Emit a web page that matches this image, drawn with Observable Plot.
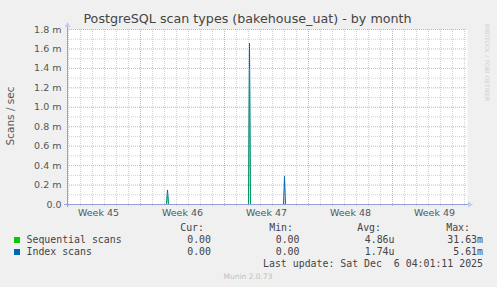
<!DOCTYPE html>
<html><head><meta charset="utf-8">
<script src="https://cdn.jsdelivr.net/npm/d3@7"></script>
<script src="https://cdn.jsdelivr.net/npm/@observablehq/plot@0.6"></script>
<style>
html,body{margin:0;padding:0;background:#f0f0f0;}
#chart{width:497px;height:287px;overflow:hidden;}
svg{display:block;}
</style></head><body><div id="chart"></div>
<script>
// ---- data ----
const chartTitle = "PostgreSQL scan types (bakehouse_uat) - by month";
const yLabel = "Scans / sec";
const seriesNames = ["Sequential scans", "Index scans"];
const seriesColors = ["#00cc00", "#0066b3"];
const timeDomain = ["2025-11-02T22:00Z", "2025-12-06T06:00Z"];
const seqTimes  = ["2025-11-02T22:00Z","2025-11-11T04:00Z","2025-11-11T06:00Z","2025-11-11T08:00Z","2025-11-18T00:00Z","2025-11-18T02:00Z","2025-11-18T04:00Z","2025-12-06T06:00Z"];
const seqValues = [0, 0, 0.00012, 0, 0, 0.0014, 0, 0];
const idxTimes  = ["2025-11-02T22:00Z","2025-11-11T04:00Z","2025-11-11T06:00Z","2025-11-11T08:00Z","2025-11-18T00:00Z","2025-11-18T02:00Z","2025-11-18T04:00Z","2025-11-20T22:00Z","2025-11-21T00:00Z","2025-11-21T02:00Z","2025-12-06T06:00Z"];
const idxValues = [0, 0, 0.00015, 0, 0, 0.00166, 0, 0, 0.00029, 0, 0];
const yMajor = [0, 0.0002, 0.0004, 0.0006, 0.0008, 0.001, 0.0012, 0.0014, 0.0016, 0.0018];
const yTickLabels = ["0.0", "0.2 m", "0.4 m", "0.6 m", "0.8 m", "1.0 m", "1.2 m", "1.4 m", "1.6 m", "1.8 m"];
const yMinor = [0.0001, 0.0003, 0.0005, 0.0007, 0.0009, 0.0011, 0.0013, 0.0015, 0.0017];
const weekLabelDates = ["2025-11-05T12:00Z","2025-11-12T12:00Z","2025-11-19T12:00Z","2025-11-26T12:00Z","2025-12-03T12:00Z"];
const weekLabels = ["Week 45", "Week 46", "Week 47", "Week 48", "Week 49"];
const statHeaders = ["Cur:", "Min:", "Avg:", "Max:"];
const statCur = ["0.00", "0.00"];
const statMin = ["0.00", "0.00"];
const statAvg = ["4.86u", "1.74u"];
const statMax = ["31.63m", "5.61m"];
const lastUpdate = "Last update: Sat Dec  6 04:01:11 2025";
const footer = "Munin 2.0.73";
const watermark = "RRDTOOL / TOBI OETIKER";

// ---- build ----
const dom = timeDomain.map(d => new Date(d));
const seq = seqTimes.map((t, i) => ({t: new Date(t), v: seqValues[i]}));
const idx = idxTimes.map((t, i) => ({t: new Date(t), v: idxValues[i]}));
const dayTicks = d3.utcDay.range(dom[0], dom[1]);
const weekTicks = d3.utcSunday.range(dom[0], dom[1]);
const weekPos = weekLabelDates.map(d => new Date(d));
const yLab = new Map(yMajor.map((v, i) => [v, yTickLabels[i]]));
const wLab = new Map(weekPos.map((d, i) => [+d, weekLabels[i]]));

const minorCol = "#d2d2d2", majorCol = "#eaa8a8", axisCol = "#94a2dc";
const W = 497, H = 287, ML = 67, MR = 30, MT = 29, MB = 83;

const plot = Plot.plot({
  width: W, height: H,
  marginLeft: ML, marginRight: MR, marginTop: MT, marginBottom: MB,
  style: {background: "transparent", fontFamily: "DejaVu Sans", fontSize: "9.5px", color: "#555"},
  x: {type: "utc", domain: dom, axis: null},
  y: {domain: [0, 0.0018], axis: null},
  marks: [
    Plot.frame({fill: "white", stroke: "none"}),
    Plot.ruleY(yMinor, {stroke: minorCol, strokeDasharray: "1,1"}),
    Plot.ruleX(dayTicks, {stroke: minorCol, strokeDasharray: "1,1"}),
    Plot.ruleY(yMajor.slice(1), {stroke: majorCol, strokeDasharray: "1,1"}),
    Plot.ruleX(weekTicks, {stroke: majorCol, strokeDasharray: "1,1"}),
    Plot.axisX({ticks: dayTicks, tickSize: 2, stroke: minorCol, tickFormat: () => "", label: null}),
    Plot.axisX({ticks: weekTicks, tickSize: 2, stroke: majorCol, tickFormat: () => "", label: null}),
    Plot.line(idx, {x: "t", y: "v", stroke: seriesColors[1], strokeWidth: 1}),
    Plot.line(seq, {x: "t", y: "v", stroke: seriesColors[0], strokeWidth: 1, strokeOpacity: 0.5}),
    Plot.axisY({ticks: yMajor, tickSize: 0, tickPadding: 6, tickFormat: d => yLab.get(d), fill: "#555", label: null}),
    Plot.axisX({ticks: weekPos, tickSize: 0, tickPadding: 5, tickFormat: d => wLab.get(+d), fill: "#555", label: null})
  ]
});
document.getElementById("chart").appendChild(plot);

const svg = d3.select(plot);
const x0 = ML, x1 = W - MR, y0 = H - MB, y1 = MT;
// axes lines with arrows
svg.append("line").attr("x1", x0 - 3).attr("x2", x1 + 3).attr("y1", y0 + 0.5).attr("y2", y0 + 0.5).attr("stroke", axisCol);
svg.append("line").attr("x1", x0 + 0.5).attr("x2", x0 + 0.5).attr("y1", y0 + 3).attr("y2", y1 - 4).attr("stroke", axisCol);
svg.append("path").attr("d", `M${x1 + 1},${y0 - 2.5}L${x1 + 6},${y0 + 0.5}L${x1 + 1},${y0 + 3.5}Z`).attr("fill", "#c4cbf0");
svg.append("path").attr("d", `M${x0 - 2.5},${y1 - 2}L${x0 + 0.5},${y1 - 7}L${x0 + 3.5},${y1 - 2}Z`).attr("fill", "#c4cbf0");

// title
svg.append("text").attr("x", 247.5).attr("y", 23).attr("text-anchor", "middle")
  .attr("font-family", "DejaVu Sans").attr("font-size", 12.7).attr("fill", "#444").text(chartTitle);
// y label
svg.append("text").attr("transform", "translate(13.5,116) rotate(-90)").attr("text-anchor", "middle")
  .attr("font-family", "DejaVu Sans").attr("font-size", 10.5).attr("fill", "#555").text(yLabel);
// watermark
svg.append("text").attr("transform", "translate(485,24) rotate(90)").attr("text-anchor", "start")
  .attr("font-family", "DejaVu Sans").attr("font-size", 6).attr("fill", "#d0d0d0").text(watermark);

// legend
const mono = {"font-family": "DejaVu Sans Mono", "font-size": 9.9, "fill": "#444"};
function mt(x, y, s, anchor) {
  const t = svg.append("text").attr("x", x).attr("y", y).attr("text-anchor", anchor || "start").text(s);
  for (const k in mono) t.attr(k, mono[k]);
  return t;
}
const hdrX = [204, 293, 381, 470];
statHeaders.forEach((h, i) => mt(hdrX[i], 231, h, "end"));
const colX = [211, 299.5, 394.5, 483];
seriesNames.forEach((n, i) => {
  const yy = 243 + i * 12;
  svg.append("rect").attr("x", 14).attr("y", yy - 6).attr("width", 6).attr("height", 6).attr("fill", seriesColors[i]);
  mt(26.5, yy, n);
  mt(colX[0], yy, statCur[i], "end");
  mt(colX[1], yy, statMin[i], "end");
  mt(colX[2], yy, statAvg[i], "end");
  mt(colX[3], yy, statMax[i], "end");
});
mt(483, 267, lastUpdate, "end").attr("xml:space", "preserve").style("white-space", "pre");
svg.append("text").attr("x", 248).attr("y", 279).attr("text-anchor", "middle")
  .attr("font-family", "DejaVu Sans").attr("font-size", 7.5).attr("fill", "#c0c0c0").text(footer);
</script></body></html>
